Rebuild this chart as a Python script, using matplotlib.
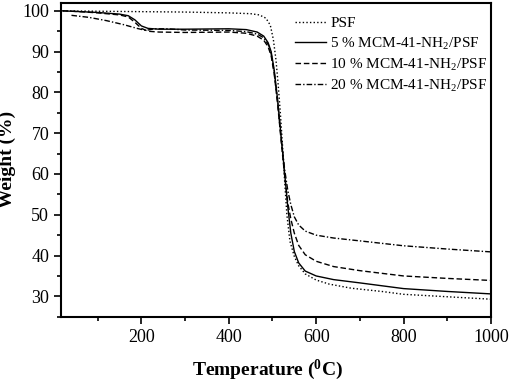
import matplotlib
matplotlib.use('Agg')
import matplotlib.pyplot as plt
from matplotlib.ticker import MultipleLocator

plt.rcParams['font.family'] = ['Liberation Serif', 'DejaVu Serif']
plt.rcParams['mathtext.fontset'] = 'custom'
plt.rcParams['mathtext.rm'] = 'Liberation Serif'
plt.rcParams['mathtext.bf'] = 'Liberation Serif:bold'

# TGA curves (temperature in C, weight in %)
psf_t = [20, 100, 200, 300, 400, 450, 470, 485, 495, 502, 508, 513, 518, 523, 528, 533,
         540, 550, 560, 575, 600, 630, 680, 750, 800, 900, 1000]
psf_w = [100, 99.9, 99.8, 99.7, 99.5, 99.3, 99.0, 98.2, 96.5, 93.0, 88.0, 82.0, 75.0, 67.0,
         58.0, 50.0, 43.5, 39.8, 37.5, 35.5, 34.0, 33.0, 32.0, 31.2, 30.5, 29.9, 29.3]

p5_t = [20, 60, 100, 150, 170, 185, 200, 215, 240, 300, 400, 440, 465, 480, 490, 497, 504,
        512, 520, 528, 535, 542, 550, 560, 575, 600, 640, 700, 800, 900, 1000]
p5_w = [100, 99.8, 99.6, 99.2, 98.8, 97.8, 96.3, 95.7, 95.5, 95.5, 95.6, 95.4, 94.8, 93.8,
        92.2, 90.0, 85.5, 78.0, 69.0, 60.0, 52.0, 45.5, 41.0, 38.2, 36.2, 35.0, 34.1, 33.3,
        31.9, 31.2, 30.6]

p10_t = [20, 60, 100, 150, 170, 185, 200, 215, 240, 300, 400, 440, 465, 480, 490, 497, 504,
         512, 520, 528, 535, 542, 550, 560, 575, 600, 640, 700, 800, 900, 1000]
p10_w = [100, 99.8, 99.5, 99.0, 98.5, 97.2, 95.7, 95.0, 94.8, 94.7, 94.8, 94.5, 93.8, 92.8,
         91.2, 89.0, 84.5, 77.0, 68.0, 59.5, 53.0, 49.0, 45.5, 42.5, 40.2, 38.6, 37.3, 36.3,
         35.0, 34.4, 33.9]

p20_t = [40, 80, 120, 160, 190, 210, 230, 260, 300, 400, 440, 465, 480, 490, 497, 504, 512,
         520, 528, 535, 542, 550, 560, 575, 600, 640, 700, 800, 900, 1000]
p20_w = [98.9, 98.4, 97.6, 96.6, 95.7, 95.2, 95.6, 95.6, 95.3, 95.2, 94.9, 94.3, 93.4, 91.8,
         89.5, 85.0, 77.5, 68.5, 61.0, 56.0, 52.5, 49.5, 47.5, 46.0, 45.0, 44.3, 43.6, 42.4,
         41.6, 40.9]

fig = plt.figure(figsize=(5.1, 3.83), dpi=100)
ax = fig.add_axes([0.1196, 0.173, 0.843, 0.820])

ax.plot(psf_t, psf_w, color='black', lw=1.0, linestyle=(0, (1, 1.6)), label='PSF')
ax.plot(p5_t, p5_w, color='black', lw=1.0, linestyle='-', label='5 % MCM-41-NH$_\\mathregular{2}$/PSF')
ax.plot(p10_t, p10_w, color='black', lw=1.0, linestyle=(0, (4, 2)), label='10 % MCM-41-NH$_\\mathregular{2}$/PSF')
ax.plot(p20_t, p20_w, color='black', lw=1.0, linestyle=(0, (4, 1.5, 1, 1.5)), label='20 % MCM-41-NH$_\\mathregular{2}$/PSF')

ax.set_xlim(16, 1000)
ax.set_ylim(25, 102)
ax.xaxis.set_major_locator(MultipleLocator(200))
ax.xaxis.set_minor_locator(MultipleLocator(100))
ax.yaxis.set_major_locator(MultipleLocator(10))
ax.yaxis.set_minor_locator(MultipleLocator(5))
ax.tick_params(which='both', direction='out', top=False, right=False, labelsize=13, width=1.2)
ax.tick_params(which='major', length=5)
ax.tick_params(which='minor', length=3)
for s in ax.spines.values():
    s.set_linewidth(1.5)

ax.set_xlabel('Temperature ($\\mathbf{^0}$C)', fontsize=14, fontweight='bold')
ax.set_ylabel('Weight (%)', fontsize=14, fontweight='bold')
ax.yaxis.set_label_coords(-0.105, 0.5)
ax.xaxis.set_label_coords(0.48, -0.13)

ax.legend(loc='upper left', bbox_to_anchor=(0.53, 0.975), frameon=False, fontsize=11,
          handlelength=2.0, handletextpad=0.3, labelspacing=0.3, borderaxespad=0)

fig.savefig('out.png', dpi=100)
